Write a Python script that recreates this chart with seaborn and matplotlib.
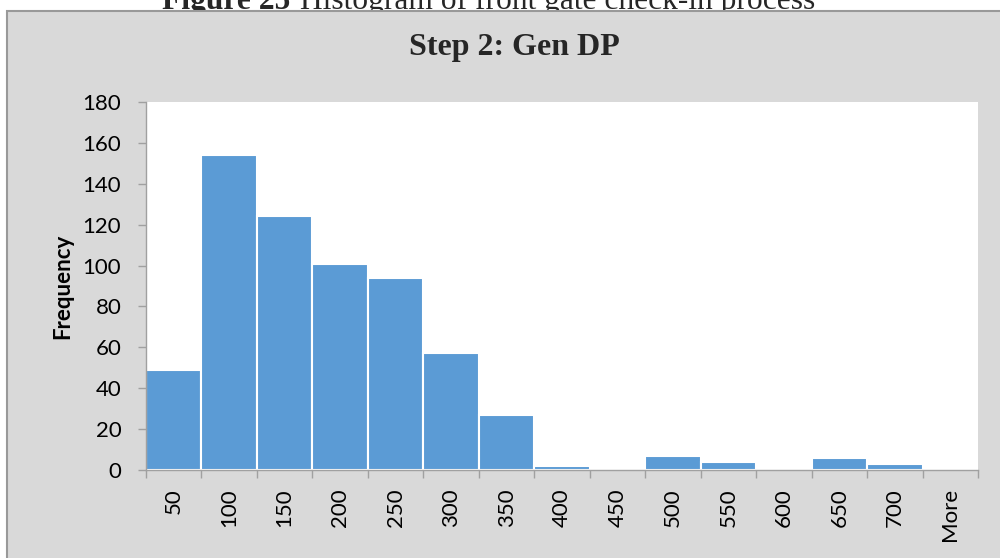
import numpy as np
import matplotlib
matplotlib.use("Agg")
import matplotlib.pyplot as plt
from matplotlib.patches import Rectangle
import seaborn as sns

# ---- data ----
bins = ["50", "100", "150", "200", "250", "300", "350", "400", "450",
        "500", "550", "600", "650", "700", "More"]
freqs = [49, 154, 124, 101, 94, 57, 27, 2, 0, 7, 4, 0, 6, 3, 0]
yticks = [0, 20, 40, 60, 80, 100, 120, 140, 160, 180]
title = "Step 2: Gen DP"
ylabel = "Frequency"
caption_bold = "Figure 25"
caption_rest = "Histogram of front gate check-in process"

sns.set_theme(style="white")
plt.rcParams["font.family"] = ["Lato", "DejaVu Sans"]

W, H = 1000, 558
fig = plt.figure(figsize=(W / 100, H / 100), dpi=100)
fig.patch.set_facecolor("white")

# gray chart-area box (left & top border visible)
rect = Rectangle((6.5 / W, -0.1), 1.2, (1 - 11.5 / H) + 0.1,
                 transform=fig.transFigure, facecolor="#D9D9D9",
                 edgecolor="#999999", linewidth=1.5, zorder=1)
fig.add_artist(rect)

# caption (clipped by the box)
fig.text(290 / W, 1 - 9 / H, caption_bold, ha="right", va="baseline",
         fontsize=22.7, fontweight="bold", family="Liberation Serif", zorder=0)
fig.text(300 / W, 1 - 9 / H, caption_rest, ha="left", va="baseline",
         fontsize=22.7, family="Liberation Serif", zorder=0)

# title
fig.text(514 / W, 1 - 55 / H, title, ha="center", va="baseline",
         fontsize=23, fontweight="bold", family="Liberation Serif", zorder=3)

left, right, top, bottom = 146, 978, 102, 470
ax = fig.add_axes([left / W, 1 - bottom / H, (right - left) / W, (bottom - top) / H])
ax.set_zorder(2)
ax.set_facecolor("white")

sns.barplot(x=bins, y=freqs, color="#5B9BD5", saturation=1, width=1.0,
            edgecolor="white", linewidth=1.5, ax=ax)

ax.set_xlim(-0.5, len(bins) - 0.5)
ax.set_ylim(0, 180)
ax.set_yticks(yticks)
ax.set_yticklabels([str(v) for v in yticks])
ax.set_xticks(np.arange(len(bins)))
ax.set_xticklabels(bins, rotation=90)
ax.set_xticks(np.arange(-0.5, len(bins)), minor=True)

axis_gray = "#A0A0A0"
for s in ["top", "right"]:
    ax.spines[s].set_visible(False)
for s in ["left", "bottom"]:
    ax.spines[s].set_color(axis_gray)
    ax.spines[s].set_linewidth(1.0)

ax.tick_params(axis="x", which="major", length=0, pad=13, labelsize=16,
               labelcolor="black")
ax.tick_params(axis="x", which="minor", length=5.8, width=1.0, color=axis_gray,
               direction="out", bottom=True)
ax.tick_params(axis="y", which="major", length=5.8, width=1.0, color=axis_gray,
               direction="out", pad=12, labelsize=16, labelcolor="black", left=True)

ax.set_xlabel("")
ax.set_ylabel(ylabel, fontsize=16, fontweight="bold", color="black")
ax.yaxis.set_label_coords(-0.087, 0.5)
ax.grid(False)

fig.savefig("out.png", dpi=100)
